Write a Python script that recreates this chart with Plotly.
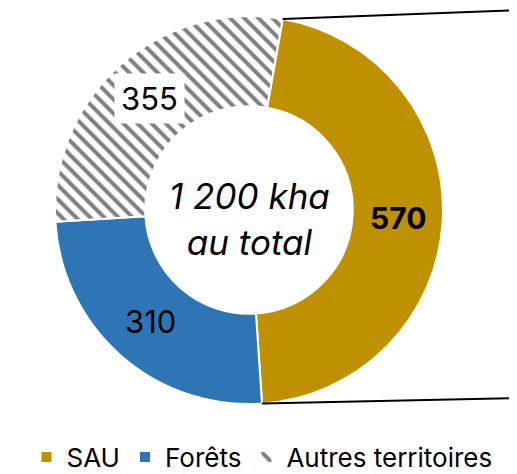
import math
import plotly.graph_objects as go

# ---- data ----
labels = ["SAU", "Forêts", "Autres territoires"]
values = [570, 310, 355]
value_text = ["570", "310", "355"]
colors = ["#BF9000", "#2E75B6", "#808080"]
center_text = "<i>1 200 kha<br>au total</i>"

# ---- layout geometry (pixels, in screenshot coords) ----
W, H = 517, 474
OFF = 8  # default page body margin
cx, cy, R = 249 - OFF, 210 - OFF, 194
hole = 0.535
rotation = 10
FONT = "Inter"

fig = go.Figure(go.Pie(
    labels=labels, values=values, sort=False, direction="clockwise",
    rotation=rotation, hole=hole, textinfo="none", hoverinfo="label+value",
    marker=dict(
        colors=[colors[0], colors[1], "white"],
        line=dict(color="white", width=2),
        pattern=dict(shape=["", "", "\\"], fgcolor=colors[2], size=10, solidity=0.4),
    ),
    domain=dict(x=[(cx - R) / W, (cx + R) / W], y=[1 - (cy + R) / H, 1 - (cy - R) / H]),
))

def px2paper(px, py):
    return px / W, 1 - py / H

total = sum(values)
rmid = R * (1 + hole) / 2
ann = []
start = rotation
for i, v in enumerate(values):
    span = 360 * v / total
    mid = math.radians(start + span / 2)
    px = cx + rmid * math.sin(mid)
    py = cy - rmid * math.cos(mid)
    x, y = px2paper(px, py)
    txt = "<b>%s</b>" % value_text[i] if i == 0 else value_text[i]
    ann.append(dict(x=x, y=y, xref="paper", yref="paper", text=txt, showarrow=False,
                    xanchor="center", yanchor="middle",
                    font=dict(family=FONT, size=30 if i == 0 else 31, color="black"),
                    bgcolor="white" if i == 2 else None, borderpad=6))
    start += span

x, y = px2paper(cx, cy + 9)
ann.append(dict(x=x, y=y, xref="paper", yref="paper", text=center_text, showarrow=False,
                xanchor="center", yanchor="middle",
                font=dict(family=FONT, size=35, color="black")))

# connector lines from SAU slice edges
a0 = math.radians(rotation)
a1 = math.radians(rotation + 360 * values[0] / total)
p0 = px2paper(cx + R * math.sin(a0), cy - R * math.cos(a0))
p1 = px2paper(cx + R * math.sin(a1), cy - R * math.cos(a1))
shapes = [
    dict(type="line", xref="paper", yref="paper", x0=p0[0], y0=p0[1], x1=1, y1=1 - (10 - OFF) / H,
         line=dict(color="black", width=2)),
    dict(type="line", xref="paper", yref="paper", x0=p1[0], y0=p1[1], x1=1, y1=1 - (398 - OFF) / H,
         line=dict(color="black", width=2)),
]

fig.update_layout(
    width=W, height=H, margin=dict(l=0, r=0, t=0, b=0, autoexpand=False),
    paper_bgcolor="white", plot_bgcolor="white",
    font=dict(family=FONT, color="black"),
    annotations=ann, shapes=shapes,
    showlegend=True,
    legend=dict(orientation="h", x=(262 - OFF) / W, xanchor="center",
                y=1 - (457 - OFF) / H, yanchor="middle",
                font=dict(family=FONT, size=26, color="black"), traceorder="normal"),
)

fig.write_html("out.html")
